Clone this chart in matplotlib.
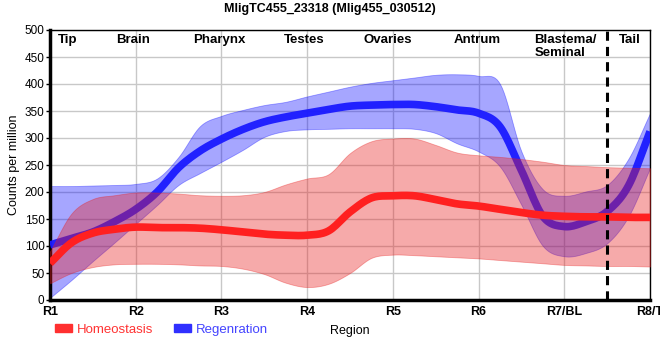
import matplotlib
matplotlib.use("Agg")
import matplotlib.pyplot as plt
from matplotlib.patches import Patch
import numpy as np

plt.rcParams['font.family'] = ['Liberation Sans', 'DejaVu Sans']

title = "MligTC455_23318 (Mlig455_030512)"
regions = ["R1", "R2", "R3", "R4", "R5", "R6", "R7/BL", "R8/T"]
tissues = ["Tip", "Brain", "Pharynx", "Testes", "Ovaries", "Antrum", "Blastema/\nSeminal", "Tail"]
tissue_pos = [0.21, 0.97, 1.98, 2.96, 3.94, 4.98, 5.65, 6.77]
tissue_ha = ["center"] * 6 + ["left", "center"]

# sample positions along the region axis (0 = R1 ... 7 = R8/T)
pos = [0, 0.25, 0.5, 0.75, 1, 1.25, 1.5, 1.75, 2, 2.25, 2.5, 2.75, 3, 3.25, 3.5,
       3.75, 4, 4.25, 4.5, 4.75, 5, 5.25, 5.5, 5.75, 6, 6.25, 6.5, 6.75, 7]

homeo = [68, 106, 124, 131, 135, 134, 134, 133, 130, 126, 122, 120, 120, 128, 163,
         189, 193, 193, 186, 178, 174, 168, 162, 157, 155, 154, 154, 153, 153]
homeo_hi = [90, 160, 187, 194, 199, 199, 197, 194, 193, 194, 200, 214, 225, 233, 272,
            294, 299, 299, 287, 273, 268, 265, 261, 256, 250, 248, 246, 245, 244]
homeo_lo = [31, 50, 61, 66, 67, 67, 66, 64, 63, 58, 48, 32, 24, 30, 50,
            78, 84, 83, 81, 79, 77, 74, 71, 68, 65, 64, 63, 63, 62]

regen = [102, 114, 126, 145, 168, 200, 245, 276, 298, 316, 330, 339, 346, 353, 359,
         361, 362, 362, 358, 352, 346, 321, 240, 155, 136, 145, 164, 212, 312]
regen_hi = [211, 211, 212, 213, 215, 225, 265, 322, 341, 352, 361, 367, 377, 386, 395,
            402, 407, 412, 417, 418, 415, 400, 275, 205, 193, 201, 213, 262, 346]
regen_lo = [4, 37, 72, 106, 141, 176, 213, 235, 256, 278, 302, 313, 316, 317, 318,
            318, 318, 317, 309, 290, 275, 247, 176, 100, 81, 87, 105, 155, 244]


def smooth(x, y, n=12):
    # Catmull-Rom curve through the read points
    x = np.asarray(x, float)
    y = np.asarray(y, float)
    px = np.concatenate([[2 * x[0] - x[1]], x, [2 * x[-1] - x[-2]]])
    py = np.concatenate([[2 * y[0] - y[1]], y, [2 * y[-1] - y[-2]]])
    xs, ys = [], []
    t = np.linspace(0, 1, n, endpoint=False)
    for i in range(1, len(px) - 2):
        for arr, out in ((px, xs), (py, ys)):
            p0, p1, p2, p3 = arr[i - 1], arr[i], arr[i + 1], arr[i + 2]
            out.append(0.5 * (2 * p1 + (-p0 + p2) * t + (2 * p0 - 5 * p1 + 4 * p2 - p3) * t ** 2
                              + (-p0 + 3 * p1 - 3 * p2 + p3) * t ** 3))
    xs.append([x[-1]])
    ys.append([y[-1]])
    return np.concatenate(xs), np.concatenate(ys)


fig = plt.figure(figsize=(6.6, 3.6), dpi=100)
ax = fig.add_axes([50 / 660, 60 / 360, 600 / 660, 270 / 360])

red = "#ff2020"
blue = "#1a1aff"

sx, lo = smooth(pos, regen_lo)
_, hi = smooth(pos, regen_hi)
ax.fill_between(sx, lo, hi, color="blue", alpha=0.35, lw=0.6, zorder=2)
sx, yv = smooth(pos, regen)
ax.plot(sx, yv, color=blue, lw=5.5, alpha=0.95, zorder=3, solid_capstyle="butt")

sx, lo = smooth(pos, homeo_lo)
_, hi = smooth(pos, homeo_hi)
ax.fill_between(sx, lo, hi, color="#e82020", alpha=0.38, lw=0.6, zorder=4)
sx, yv = smooth(pos, homeo)
ax.plot(sx, yv, color=red, lw=5.5, zorder=5, solid_capstyle="butt")

ax.axvline(6.5, color="black", lw=2.2, ls=(0, (3, 2)), zorder=6)

ax.set_xlim(0, 7)
ax.set_ylim(0, 500)
ax.set_yticks(np.arange(0, 501, 50))
ax.set_xticks(range(len(regions)))
ax.set_xticklabels(regions, fontsize=9, fontweight="bold")
ax.tick_params(axis="x", length=0, pad=4)
ax.tick_params(axis="y", length=3, width=1, labelsize=8.5, pad=1)
ax.grid(color="#c8c8c8", lw=1, zorder=0)
ax.set_axisbelow(True)
for side in ["left", "bottom"]:
    ax.spines[side].set_linewidth(2.5)
for side in ["top", "right"]:
    ax.spines[side].set_linewidth(1)

for name, p, ha in zip(tissues, tissue_pos, tissue_ha):
    ax.text(p, 493, name, ha=ha, va="top", fontsize=9.5, fontweight="bold",
            linespacing=1.1, multialignment="left", zorder=7)

fig.text(330 / 660, 1 - 9 / 360, title, ha="center", va="center", fontsize=9, fontweight="bold")
fig.text(14 / 660, 1 - 165 / 360, "Counts per million", rotation=90, ha="center", va="center",
         fontsize=9)
fig.text(350 / 660, 1 - 331 / 360, "Region", ha="center", va="center", fontsize=9)

handles = [Patch(color="#ff3030", label="Homeostasis"), Patch(color="#3030ff", label="Regenration")]
fig.legend(handles=handles, loc="center left", bbox_to_anchor=(55 / 660, 1 - 330 / 360), ncol=2,
           frameon=False, fontsize=9.5, handlelength=1.3, handleheight=0.55, handletextpad=0.35,
           columnspacing=1.6, labelcolor=["#ff3333", "#4444ff"], borderaxespad=0, borderpad=0)

fig.savefig("out.png", dpi=100)
